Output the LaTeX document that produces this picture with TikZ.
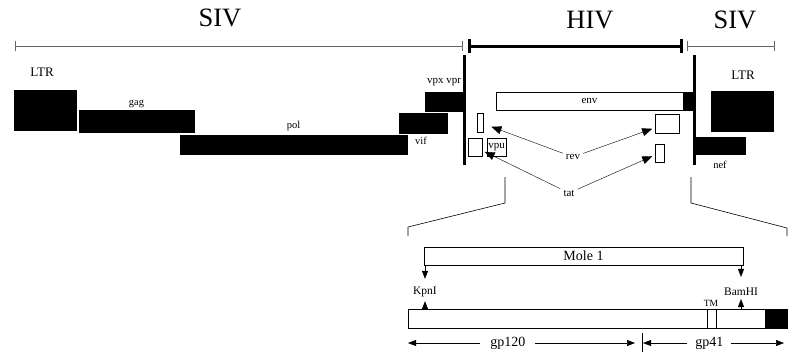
\documentclass[tikz,border=0pt]{standalone}
\usepackage{fontspec}
\setmainfont{Liberation Serif}
\usepackage{tikz}
\usetikzlibrary{positioning,arrows.meta,calc}

\begin{document}
\begin{tikzpicture}[
    x=1pt, y=-1pt,
    gene/.style={rectangle, draw=black, fill=black, inner sep=0pt, outer sep=0pt, anchor=north west},
    orf/.style={rectangle, draw=black, fill=white, line width=0.8pt, inner sep=0pt, outer sep=0pt, anchor=north west},
    title/.style={font=\fontsize{26.5}{28}\selectfont, inner sep=0pt},
    big/.style={font=\fontsize{14}{16}\selectfont, inner sep=0pt},
    small/.style={font=\fontsize{10.5}{12}\selectfont, inner sep=0pt},
    tiny/.style={font=\fontsize{11}{12}\selectfont, inner sep=1pt},
    arr/.style={-{Triangle[length=8pt,width=6pt]}, line width=0.5pt},
    farr/.style={-{Triangle[length=10pt,width=8pt]}, line width=0.4pt},
    dbl/.style={{Triangle[length=8pt,width=6pt]}-{Triangle[length=8pt,width=6pt]}, line width=0.5pt},
    ruler/.style={line width=0.6pt, gray!80!black, {Bar[width=10pt]}-{Bar[width=10pt]}}
]
\useasboundingbox (0,0) rectangle (800,360);

% titles and ruler
\node[title] (sivL) at (220,18) {SIV};
\node[title] (hiv) at (590,20) {HIV};
\node[title] (sivR) at (735,20) {SIV};
\draw[ruler] (15,46) -- (463,46);
\draw[line width=3pt, {Bar[width=14pt]}-{Bar[width=14pt]}] (468,46) -- (683,46);
\draw[ruler] (687,46) -- (775,46);

% SIV genes
\node[gene, minimum width=62, minimum height=40] (ltrL) at (14,90) {};
\node[gene, minimum width=115, minimum height=22] (gag) at (79,110) {};
\node[gene, minimum width=227, minimum height=19] (pol) at (180,135) {};
\node[gene, minimum width=48, minimum height=20] (vif) at (399,113) {};
\node[gene, minimum width=38, minimum height=19] (vpx) at (425,92) {};
\node[gene, minimum width=62, minimum height=40] (ltrR) at (711,91) {};
\node[gene, minimum width=49, minimum height=17] (nef) at (696,137) {};

\node[big, font=\fontsize{13}{14}\selectfont] at (42,72) {LTR};
\node[big, font=\fontsize{13}{14}\selectfont] at (743,75) {LTR};
\node[small, above=2pt of gag] {gag};
\node[small, above=4pt of pol] {pol};
\node[small] at (421,141) {vif};
\node[small, font=\fontsize{11}{12}\selectfont] at (444,82) {vpx vpr};
\node[small] at (720,165) {nef};

% HIV part
\draw[line width=3pt] (464.5,55) -- (464.5,165);
\draw[line width=3pt] (694,55) -- (694,165);
\node[orf, minimum width=187, minimum height=18] (env) at (496,92) {};
\node[gene, minimum width=12, minimum height=18] (envEnd) at (683,92) {};
\node[tiny] at (env.center) {env};
\node[orf, minimum width=6, minimum height=19] (revL) at (477,113) {};
\node[orf, minimum width=14, minimum height=18] (tatL) at (468,138) {};
\node[orf, minimum width=19, minimum height=18] (vpu) at (487,138) {};
\node[tiny, inner sep=0pt] at (vpu.center) {vpu};
\node[orf, minimum width=24, minimum height=19] (revR) at (655,114) {};
\node[orf, minimum width=9, minimum height=18] (tatR) at (655,144) {};

\node[tiny, inner sep=3pt] (rev) at (573,157) {rev};
\node[tiny, inner sep=3pt] (tat) at (569,193) {tat};
\draw[farr, shorten >=9pt] (rev) -- (revL);
\draw[farr, shorten >=3pt] (rev) -- (revR);
\draw[farr, shorten >=3pt] (tat) -- (tatL);
\draw[farr, shorten >=3pt] (tat) -- (tatR);

% zoom lines
\draw[line width=0.6pt] (505,177) -- (505,203) -- (408,227) -- (408,236);
\draw[line width=0.6pt] (691,177) -- (691,203) -- (787,228) -- (787,236);

% env detail
\node[orf, minimum width=319, minimum height=18] (mole) at (424,247) {};
\node[big] at (mole.center) {Mole 1};
\node[orf, minimum width=379, minimum height=19] (bar) at (408,309) {};
\node[gene, minimum width=22, minimum height=19] (barEnd) at (765,309) {};
\draw[line width=0.8pt] (707,309) -- (707,328);
\draw[line width=0.8pt] (716,309) -- (716,328);
\node[small, font=\fontsize{9.5}{11}\selectfont] (tm) at (711,303) {TM};

\node[small, font=\fontsize{11.5}{13}\selectfont] (kpn) at (425,292) {KpnI};
\node[small, font=\fontsize{11.5}{13}\selectfont] (bam) at (741,292) {BamHI};
\draw[arr] (kpn.north |- mole.south) -- ($(kpn.north)+(0,-8)$);
\draw[arr] (kpn.south |- bar.north) -- ($(kpn.south)+(0,4)$);
\draw[arr] (bam.north |- mole.south) -- ($(bam.north)+(0,-11)$);
\draw[arr] (bam.south |- bar.north) -- ($(bam.south)+(0,3)$);

\coordinate (g1) at (408,343);
\coordinate (g2) at (635,343);
\coordinate (g3) at (643,343);
\coordinate (g4) at (784,343);
\draw[line width=0.6pt] (642,333) -- (642,352);
\draw[dbl] (g1) -- node[pos=0.44, big, fill=white, inner xsep=10pt] {gp120} (g2);
\draw[dbl] (g3) -- node[pos=0.47, big, fill=white, inner xsep=8pt] {gp41} (g4);
\end{tikzpicture}
\end{document}
